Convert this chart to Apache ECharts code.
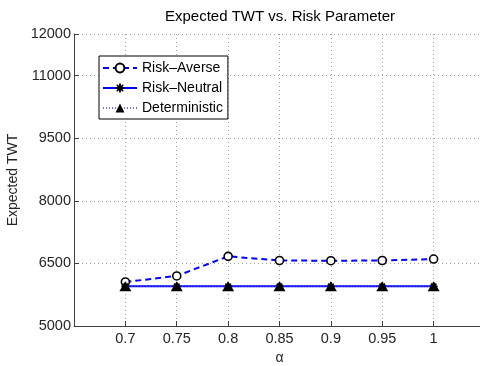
<!DOCTYPE html>
<html>
<head>
<meta charset="utf-8">
<script src="https://cdn.jsdelivr.net/npm/echarts@6/dist/echarts.min.js"></script>
<style>html,body{margin:0;padding:0;background:#fff;overflow:hidden;}#c{width:480px;height:366px;}</style>
</head>
<body>
<div id="c"></div>
<script>
var alphas = [0.7, 0.75, 0.8, 0.85, 0.9, 0.95, 1];
var riskAverse = [6055, 6200, 6670, 6570, 6565, 6570, 6605];
var riskNeutral = [5950, 5950, 5950, 5950, 5950, 5950, 5950];
var deterministic = [5950, 5950, 5950, 5950, 5950, 5950, 5950];
var yTicks = [5000, 6500, 8000, 9500, 11000, 12000];
var seriesNames = ['Risk\u2013Averse', 'Risk\u2013Neutral', 'Deterministic'];
var titleText = 'Expected TWT vs. Risk Parameter';
var yName = 'Expected TWT';
var xName = '\u03b1';

function pairs(v) { return alphas.map(function (a, i) { return [a, v[i]]; }); }

var FONT = 'Liberation Sans, Arial, sans-serif';
var asterisk = 'path://M-1,-5L1,-5L1,5L-1,5Z M-5,-1L5,-1L5,1L-5,1Z M-4.2,-2.8L-2.8,-4.2L4.2,2.8L2.8,4.2Z M2.8,-4.2L4.2,-2.8L-2.8,4.2L-4.2,2.8Z';

var chart = echarts.init(document.getElementById('c'), null, {renderer: 'canvas'});
chart.setOption({
  animation: false,
  backgroundColor: '#fff',
  title: {
    text: titleText, left: 165, top: 9, padding: 0,
    textStyle: {fontFamily: FONT, fontSize: 15, fontWeight: 'normal', color: '#000'}
  },
  legend: {
    orient: 'vertical', left: 99, top: 56,
    padding: [5, 5, 4, 3], itemGap: 6, itemWidth: 34, itemHeight: 11,
    backgroundColor: '#fff', borderColor: '#000', borderWidth: 1, borderRadius: 0,
    textStyle: {fontFamily: FONT, fontSize: 14, color: '#000'},
    data: seriesNames
  },
  grid: {left: 74, width: 411, top: 34, bottom: 40, containLabel: false, outerBoundsMode: 'none'},
  xAxis: {
    type: 'value', min: 0.65, max: 1.05, interval: 0.05,
    name: xName, nameLocation: 'middle', nameGap: 20,
    nameTextStyle: {fontFamily: FONT, fontSize: 14, color: '#262626'},
    axisLine: {show: true, lineStyle: {color: '#404040', width: 1}},
    axisTick: {show: true, inside: true, length: 5, lineStyle: {color: '#404040'}},
    axisLabel: {
      margin: 5, fontFamily: FONT, fontSize: 14.5, color: '#262626',
      formatter: function (v) {
        if (Math.abs(v - 0.65) < 1e-6 || Math.abs(v - 1.05) < 1e-6) return '';
        return String(+v.toFixed(2));
      }
    },
    splitLine: {show: true, lineStyle: {color: '#a0a0a0', type: [1, 3], width: 1}}
  },
  yAxis: {
    type: 'value', min: 5000, max: 12000, interval: 1000,
    name: yName, nameLocation: 'middle', nameGap: 46, nameRotate: 90,
    nameTextStyle: {fontFamily: FONT, fontSize: 14, color: '#262626'},
    axisLine: {show: true, lineStyle: {color: '#404040', width: 1}},
    axisTick: {show: true, inside: true, length: 5, customValues: yTicks, lineStyle: {color: '#404040'}},
    axisLabel: {
      margin: 3, fontFamily: FONT, fontSize: 14.5, color: '#262626', customValues: yTicks,
      formatter: function (v) { return String(Math.round(v)); }
    },
    splitLine: {show: true, lineStyle: {color: '#a0a0a0', type: [1, 3], width: 1}}
  },
  series: [
    {
      name: seriesNames[0], type: 'line', data: pairs(riskAverse),
      symbol: 'circle', symbolSize: 8, z: 3,
      lineStyle: {color: '#0000ff', width: 2, type: [6, 4]},
      itemStyle: {color: '#fff', borderColor: '#000', borderWidth: 1.6}
    },
    {
      name: seriesNames[1], type: 'line', data: pairs(riskNeutral),
      symbol: asterisk, symbolSize: 8, z: 4,
      lineStyle: {color: '#0000ff', width: 2, type: 'solid'},
      itemStyle: {color: '#000', borderWidth: 0}
    },
    {
      name: seriesNames[2], type: 'line', data: pairs(deterministic),
      symbol: 'triangle', symbolSize: [12, 10], z: 5,
      lineStyle: {color: '#6a6aff', width: 1, type: [1, 2]},
      itemStyle: {color: '#000', borderWidth: 0}
    }
  ]
});
</script>
</body>
</html>
